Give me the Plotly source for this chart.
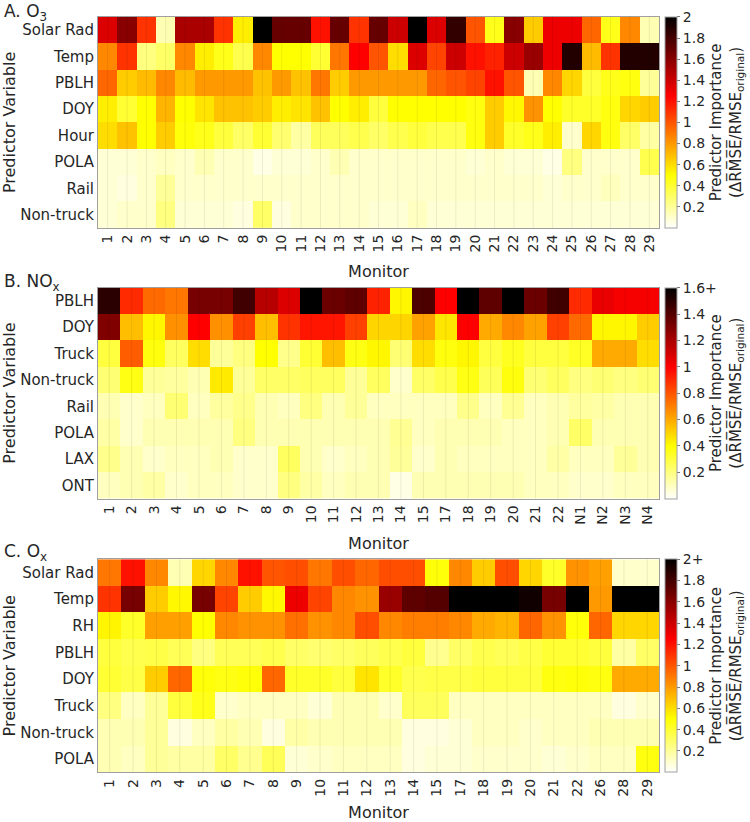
import plotly.graph_objects as go

# ---------------- data ----------------
mon_a = [str(i) for i in range(1, 30)]
vars_a = ["Solar Rad", "Temp", "PBLH", "DOY", "Hour", "POLA", "Rail", "Non-truck"]
a_solar = [1.35, 1.6, 1.1, 0.15, 1.5, 1.5, 1.1, 0.55, 2.0, 1.7, 1.7, 1.2, 1.7, 1.1, 1.7,
           1.4, 2.0, 1.35, 1.85, 1.0, 0.45, 1.6, 0.65, 1.3, 1.3, 0.95, 0.45, 0.85, 0.15]
a_temp = [0.85, 1.1, 0.25, 0.3, 0.85, 0.55, 0.45, 0.35, 0.85, 0.5, 0.5, 0.4, 0.9, 1.25, 1.0,
          0.6, 1.35, 1.05, 1.4, 1.2, 1.15, 1.4, 1.55, 1.3, 1.9, 0.7, 1.1, 1.9, 1.9]
a_pblh = [0.95, 0.65, 0.7, 0.85, 0.7, 0.8, 0.8, 0.8, 0.68, 0.8, 0.68, 0.9, 0.65, 0.8, 0.8,
          0.8, 0.8, 0.95, 1.0, 1.05, 1.2, 1.0, 0.15, 0.85, 0.62, 0.38, 0.45, 0.47, 0.2]
a_doy = [0.55, 0.4, 0.5, 0.72, 0.5, 0.58, 0.68, 0.68, 0.65, 0.55, 0.58, 0.68, 0.5, 0.55, 0.38,
         0.5, 0.5, 0.5, 0.5, 0.47, 0.65, 0.52, 0.82, 0.5, 0.42, 0.42, 0.47, 0.62, 0.65]
a_hour = [0.6, 0.68, 0.5, 0.65, 0.48, 0.45, 0.38, 0.3, 0.4, 0.28, 0.18, 0.32, 0.32, 0.35, 0.3,
          0.35, 0.38, 0.35, 0.35, 0.47, 0.65, 0.42, 0.45, 0.55, 0.1, 0.62, 0.47, 0.3, 0.18]
a_pola = [0.08, 0.08, 0.1, 0.12, 0.1, 0.15, 0.1, 0.1, 0.05, 0.08, 0.08, 0.1, 0.15, 0.1, 0.1,
          0.1, 0.1, 0.1, 0.1, 0.08, 0.1, 0.08, 0.08, 0.05, 0.25, 0.1, 0.1, 0.1, 0.35]
a_rail = [0.08, 0.06, 0.1, 0.2, 0.1, 0.1, 0.1, 0.1, 0.1, 0.1, 0.1, 0.1, 0.1, 0.1, 0.1,
          0.1, 0.1, 0.1, 0.1, 0.1, 0.1, 0.1, 0.1, 0.08, 0.1, 0.1, 0.13, 0.1, 0.1]
a_nontruck = [0.08, 0.1, 0.1, 0.25, 0.08, 0.08, 0.08, 0.06, 0.3, 0.06, 0.1, 0.1, 0.1, 0.1, 0.08,
              0.08, 0.12, 0.08, 0.08, 0.08, 0.08, 0.08, 0.08, 0.08, 0.08, 0.08, 0.08, 0.08, 0.08]

mon_b = [str(i) for i in range(1, 16)] + ["17", "18", "19", "20", "21", "22", "N1", "N2", "N3", "N4"]
vars_b = ["PBLH", "DOY", "Truck", "Non-truck", "Rail", "POLA", "LAX", "ONT"]
b_pblh = [1.5, 0.9, 0.75, 0.72, 1.32, 1.32, 1.45, 1.17, 1.08, 1.65, 1.35, 1.38, 0.92, 0.42, 1.42,
          1.0, 1.65, 1.38, 1.65, 1.35, 1.45, 0.9, 1.05, 1.02, 1.02]
b_doy = [1.3, 0.55, 0.42, 0.66, 1.0, 0.66, 0.85, 0.55, 0.88, 0.95, 0.95, 0.85, 0.5, 0.5, 0.62,
         0.46, 1.0, 0.6, 0.68, 0.62, 0.85, 0.75, 0.42, 0.42, 0.52]
b_truck = [0.3, 0.78, 0.38, 0.25, 0.48, 0.16, 0.2, 0.4, 0.18, 0.32, 0.55, 0.37, 0.42, 0.22, 0.48,
           0.38, 0.42, 0.3, 0.35, 0.3, 0.3, 0.34, 0.6, 0.6, 0.48]
b_nontruck = [0.22, 0.37, 0.16, 0.15, 0.12, 0.45, 0.16, 0.24, 0.24, 0.25, 0.25, 0.16, 0.25, 0.08, 0.24,
              0.28, 0.37, 0.26, 0.38, 0.22, 0.25, 0.2, 0.22, 0.2, 0.22]
b_rail = [0.12, 0.08, 0.1, 0.22, 0.1, 0.15, 0.18, 0.12, 0.1, 0.2, 0.12, 0.16, 0.1, 0.1, 0.1,
          0.1, 0.18, 0.1, 0.17, 0.1, 0.12, 0.15, 0.14, 0.12, 0.12]
b_pola = [0.14, 0.08, 0.12, 0.12, 0.12, 0.12, 0.2, 0.12, 0.12, 0.12, 0.12, 0.12, 0.12, 0.17, 0.1,
          0.12, 0.12, 0.12, 0.1, 0.1, 0.12, 0.24, 0.12, 0.12, 0.12]
b_lax = [0.18, 0.12, 0.08, 0.1, 0.1, 0.12, 0.08, 0.08, 0.25, 0.12, 0.08, 0.1, 0.12, 0.16, 0.08,
         0.12, 0.1, 0.1, 0.1, 0.1, 0.14, 0.1, 0.1, 0.16, 0.12]
b_ont = [0.1, 0.12, 0.14, 0.08, 0.1, 0.1, 0.08, 0.08, 0.2, 0.14, 0.1, 0.12, 0.12, 0.04, 0.12,
         0.12, 0.12, 0.12, 0.12, 0.1, 0.1, 0.08, 0.08, 0.1, 0.1]

mon_c = [str(i) for i in range(1, 16)] + ["17", "18", "19", "20", "21", "22", "26", "28", "29"]
vars_c = ["Solar Rad", "Temp", "RH", "PBLH", "DOY", "Truck", "Non-truck", "POLA"]
c_solar = [0.9, 1.2, 0.85, 0.15, 0.62, 0.85, 1.2, 1.0, 1.02, 0.9, 1.02, 0.95, 1.02, 1.02, 0.48,
           0.85, 0.65, 1.02, 0.62, 0.42, 0.82, 0.78, 0.1, 0.1]
c_temp = [1.1, 1.65, 0.65, 0.52, 1.65, 1.05, 0.65, 0.52, 1.3, 1.05, 0.85, 0.82, 1.55, 1.72, 1.75,
          2.0, 2.0, 2.0, 1.95, 1.65, 2.0, 0.8, 2.0, 2.0]
c_rh = [0.53, 0.42, 0.78, 0.78, 0.5, 0.85, 0.82, 0.82, 0.92, 0.82, 0.85, 1.02, 0.85, 0.88, 0.88,
        0.85, 0.75, 0.72, 0.95, 0.82, 0.48, 0.95, 0.62, 0.62]
c_pblh = [0.38, 0.35, 0.36, 0.33, 0.25, 0.33, 0.33, 0.35, 0.3, 0.28, 0.3, 0.32, 0.35, 0.38, 0.22,
          0.3, 0.35, 0.33, 0.36, 0.4, 0.4, 0.38, 0.18, 0.3]
c_doy = [0.4, 0.36, 0.65, 0.95, 0.48, 0.46, 0.48, 0.95, 0.42, 0.42, 0.38, 0.58, 0.42, 0.35, 0.36,
         0.36, 0.38, 0.38, 0.38, 0.47, 0.48, 0.47, 0.75, 0.75]
c_truck = [0.25, 0.12, 0.2, 0.38, 0.45, 0.1, 0.12, 0.12, 0.12, 0.08, 0.15, 0.15, 0.1, 0.32, 0.32,
           0.12, 0.12, 0.12, 0.12, 0.12, 0.12, 0.12, 0.06, 0.1]
c_nontruck = [0.15, 0.15, 0.2, 0.06, 0.12, 0.18, 0.15, 0.06, 0.17, 0.15, 0.15, 0.15, 0.15, 0.06, 0.06,
              0.08, 0.12, 0.12, 0.1, 0.12, 0.12, 0.15, 0.15, 0.15]
c_pola = [0.15, 0.12, 0.2, 0.18, 0.18, 0.3, 0.22, 0.33, 0.08, 0.1, 0.12, 0.12, 0.12, 0.06, 0.08,
          0.08, 0.1, 0.1, 0.1, 0.08, 0.1, 0.12, 0.12, 0.47]

z_a = [a_solar, a_temp, a_pblh, a_doy, a_hour, a_pola, a_rail, a_nontruck]
z_b = [b_pblh, b_doy, b_truck, b_nontruck, b_rail, b_pola, b_lax, b_ont]
z_c = [c_solar, c_temp, c_rh, c_pblh, c_doy, c_truck, c_nontruck, c_pola]

# ---------------- styling ----------------
W, H = 750, 822
FONT = "DejaVu Sans"
TXT = "#262626"
# flipped MATLAB 'hot'
hot_r = [[0.0, "rgb(255,255,255)"], [0.25, "rgb(255,255,0)"],
         [0.625, "rgb(255,0,0)"], [1.0, "rgb(0,0,0)"]]

x0, x1 = 98, 659
panels = [
    dict(top=17, bot=230, z=z_a, x=mon_a, y=vars_a, cmax=2.0, last="2", title="A. O<sub>3</sub>", ty=0),
    dict(top=290, bot=503, z=z_b, x=mon_b, y=vars_b, cmax=1.6, last="1.6+", title="B. NO<sub>x</sub>", ty=272),
    dict(top=564, bot=779, z=z_c, x=mon_c, y=vars_c, cmax=2.0, last="2+", title="C. O<sub>x</sub>", ty=545),
]

fig = go.Figure()
layout = dict(width=W, height=H, margin=dict(l=0, r=0, t=0, b=0),
              paper_bgcolor="white", plot_bgcolor="white",
              font=dict(family=FONT, color=TXT, size=14), showlegend=False)
annotations = []
shapes = []
cb_title = "Predictor Importance<br>(\u0394R\u0305M\u0305S\u0305E\u0305/RMSE<sub>original</sub>)"

for i, p in enumerate(panels):
    n = "" if i == 0 else str(i + 1)
    xa, ya, ca = "x" + n, "y" + n, "coloraxis" + n
    fig.add_trace(go.Heatmap(z=p["z"], x=p["x"], y=p["y"], coloraxis=ca,
                             xaxis=xa, yaxis=ya, hoverongaps=False))
    ydom = [1 - p["bot"] / H, 1 - p["top"] / H]
    ticks = [round(0.2 * k, 1) for k in range(1, int(round(p["cmax"] / 0.2)) + 1)]
    ttext = [("%g" % t) for t in ticks]
    ttext[-1] = p["last"]
    layout["xaxis" + n] = dict(domain=[x0 / W, x1 / W], anchor=ya, type="category",
                               categoryorder="array", categoryarray=p["x"],
                               range=[-0.5, len(p["x"]) - 0.5],
                               tickangle=-90, tickfont=dict(size=14, color=TXT),
                               showline=True, mirror=True, linecolor="rgb(160,160,160)", linewidth=1,
                               ticks="", showgrid=False, zeroline=False,
                               title=dict(text="Monitor", font=dict(size=16, color=TXT), standoff=14))
    layout["yaxis" + n] = dict(domain=ydom, anchor=xa, type="category", autorange="reversed",
                               tickfont=dict(size=15, color=TXT), ticks="",
                               showline=True, mirror=True, linecolor="rgb(160,160,160)", linewidth=1,
                               showgrid=False, zeroline=False,
                               title=dict(text="Predictor Variable", font=dict(size=16, color=TXT), standoff=8))
    layout[ca] = dict(colorscale=hot_r, cmin=0, cmax=p["cmax"],
                      colorbar=dict(x=665 / W, xanchor="left", y=sum(ydom) / 2, yanchor="middle",
                                    len=ydom[1] - ydom[0], lenmode="fraction", thickness=12,
                                    outlinecolor="rgb(160,160,160)", outlinewidth=1,
                                    tickvals=ticks, ticktext=ttext, ticks="outside", ticklen=3,
                                    tickcolor="rgb(120,120,120)",
                                    tickfont=dict(size=14, color=TXT), xpad=0, ypad=0,
                                    title=dict(text=cb_title, side="right",
                                               font=dict(size=15, color=TXT))))
    annotations.append(dict(text=p["title"], x=3 / W, y=1 - p["ty"] / H, xref="paper", yref="paper",
                            xanchor="left", yanchor="top", showarrow=False, borderpad=0,
                            font=dict(size=17, color=TXT)))
    # faint grid lines at column ticks (drawn over the cells, as in the original)
    for k in range(len(p["x"])):
        shapes.append(dict(type="line", xref=xa, yref=ya + " domain", x0=k, x1=k, y0=0, y1=1,
                           line=dict(color="rgba(0,0,0,0.08)", width=1), layer="above"))

layout["annotations"] = annotations
layout["shapes"] = shapes
fig.update_layout(**layout)
fig.write_html("out.html")
